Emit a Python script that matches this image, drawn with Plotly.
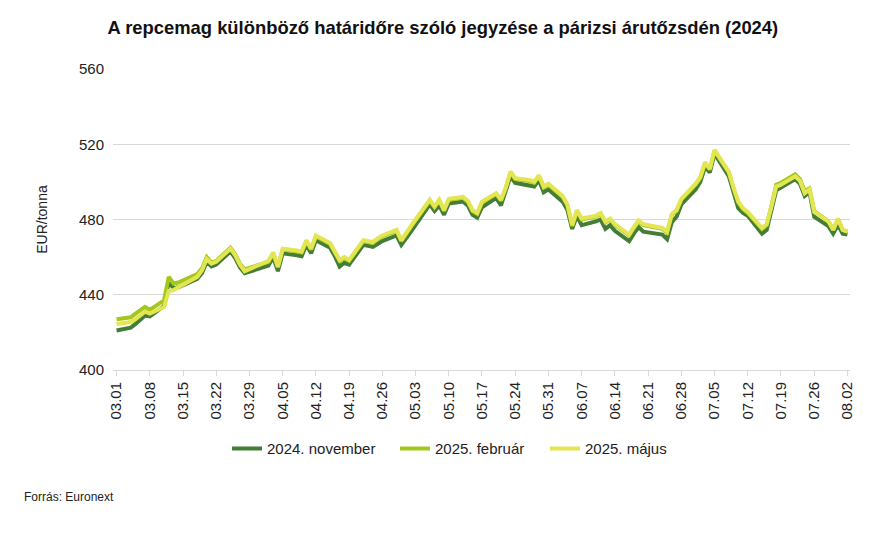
import plotly.graph_objects as go

dates = [
    "2024-03-01", "2024-03-04", "2024-03-05", "2024-03-06", "2024-03-07", "2024-03-08",
    "2024-03-11", "2024-03-12", "2024-03-13", "2024-03-14", "2024-03-15",
    "2024-03-18", "2024-03-19", "2024-03-20", "2024-03-21", "2024-03-22",
    "2024-03-25", "2024-03-26", "2024-03-27", "2024-03-28",
    "2024-04-02", "2024-04-03", "2024-04-04", "2024-04-05",
    "2024-04-08", "2024-04-09", "2024-04-10", "2024-04-11", "2024-04-12",
    "2024-04-15", "2024-04-16", "2024-04-17", "2024-04-18", "2024-04-19",
    "2024-04-22", "2024-04-23", "2024-04-24", "2024-04-25", "2024-04-26",
    "2024-04-29", "2024-04-30",
    "2024-05-02", "2024-05-03",
    "2024-05-06", "2024-05-07", "2024-05-08", "2024-05-09", "2024-05-10",
    "2024-05-13", "2024-05-14", "2024-05-15", "2024-05-16", "2024-05-17",
    "2024-05-20", "2024-05-21", "2024-05-22", "2024-05-23", "2024-05-24",
    "2024-05-27", "2024-05-28", "2024-05-29", "2024-05-30", "2024-05-31",
    "2024-06-03", "2024-06-04", "2024-06-05", "2024-06-06", "2024-06-07",
    "2024-06-10", "2024-06-11", "2024-06-12", "2024-06-13", "2024-06-14",
    "2024-06-17", "2024-06-18", "2024-06-19", "2024-06-20", "2024-06-21",
    "2024-06-24", "2024-06-25", "2024-06-26", "2024-06-27", "2024-06-28",
    "2024-07-01", "2024-07-02", "2024-07-03", "2024-07-04", "2024-07-05",
    "2024-07-08", "2024-07-09", "2024-07-10", "2024-07-11", "2024-07-12",
    "2024-07-15", "2024-07-16", "2024-07-17", "2024-07-18", "2024-07-19",
    "2024-07-22", "2024-07-23", "2024-07-24", "2024-07-25", "2024-07-26",
    "2024-07-29", "2024-07-30", "2024-07-31",
    "2024-08-01", "2024-08-02",
]

nov_2024 = [
    421, 422.5, 424.5, 427, 429, 428.5, 434, 447, 443.5, 444, 445, 448.5, 451.5, 457.5, 455, 456, 463, 459.5, 454.5, 451.5,
    455.5, 460, 452.5, 462, 461, 460.5, 466.5, 462, 469, 465, 460.5, 455, 457, 456, 466.5, 466, 465.5, 467, 468.5, 471.5, 466.5,
    473.5, 477, 488, 484.5, 487.5, 482.5, 488.5, 489.5, 487.5, 482.5, 481, 486.5, 491.5, 487.5, 494.5, 503, 499.5, 498, 497.5, 501, 494.5, 496,
    489.5, 485, 475, 482, 477, 479, 480, 475, 477, 474, 468.5, 472.5, 476, 473.5, 473, 472, 469.5, 478.5, 481.5, 488,
    496, 500, 508, 505, 515, 503, 494.5, 486, 483.5, 482, 472.5, 474.5, 485, 495.5, 497, 501.5, 499, 492.5, 494.5, 481.5, 476.5, 472.5, 477,
    472.5, 472,
]

feb_2025 = [
    427, 428, 430, 432, 433.5, 432, 437, 449.5, 446, 446.5, 447.5, 451, 454, 460, 457, 458, 465, 461.5, 456.5, 453.5,
    457.5, 462, 454.5, 464, 463, 462.5, 468.5, 464, 471, 467, 462.5, 458, 459.5, 458, 468.5, 468, 467.5, 469.5, 471, 474, 468.5,
    476, 479.5, 490, 486.5, 490, 484.5, 490.5, 491.5, 489.5, 484.5, 483, 489, 493.5, 490, 496.5, 505, 501.5, 500.5, 499.5, 503, 497, 498.5,
    492, 487.5, 476.5, 484.5, 480, 481.5, 483, 478.5, 480, 477, 471.5, 475.5, 479, 477, 476.5, 475, 473, 482.5, 484.5, 490.5,
    498.5, 502, 510, 506.5, 516.5, 505, 496.5, 489, 485.5, 483.5, 475, 477, 487.5, 498.5, 499.5, 504, 501.5, 495, 496.5, 484.5, 479, 474.5, 480,
    474.5, 473.5,
]

maj_2025 = [
    424.5, 425.5, 427, 429, 431, 430, 433.5, 442, 442.5, 444, 445.5, 449.5, 453, 459, 456.5, 457.5, 464.5, 461, 456, 452.5,
    458, 462.5, 455, 464.5, 463.5, 463, 469, 464.5, 471.5, 467.5, 463, 458.5, 460, 458.5, 469, 468.5, 468, 470, 471.5, 474.5, 469,
    476.5, 480, 490.5, 487, 490.5, 485, 491, 492, 490, 485, 483.5, 489.5, 494, 490.5, 497, 505.5, 502, 501, 500, 503.5, 497.5, 499,
    492.5, 488, 477, 485, 480.5, 482, 483.5, 479, 480.5, 477.5, 472, 476, 479.5, 477.5, 477, 475.5, 473.5, 483, 485, 491,
    499, 502.5, 510.5, 507, 517, 505.5, 497, 489.5, 486, 484, 475.5, 477.5, 487, 497.5, 498.5, 503, 500.5, 494, 496, 484, 479, 474.5, 480.5,
    474.5, 473.5,
]

series_names = ["2024. november", "2025. február", "2025. május"]
series_colors = ["#437d37", "#a3c71c", "#e3e651"]

tick_dates = [
    "2024-03-01", "2024-03-08", "2024-03-15", "2024-03-22", "2024-03-29", "2024-04-05",
    "2024-04-12", "2024-04-19", "2024-04-26", "2024-05-03", "2024-05-10", "2024-05-17",
    "2024-05-24", "2024-05-31", "2024-06-07", "2024-06-14", "2024-06-21", "2024-06-28",
    "2024-07-05", "2024-07-12", "2024-07-19", "2024-07-26", "2024-08-02",
]
tick_labels = [
    "03.01", "03.08", "03.15", "03.22", "03.29", "04.05", "04.12", "04.19", "04.26",
    "05.03", "05.10", "05.17", "05.24", "05.31", "06.07", "06.14", "06.21", "06.28",
    "07.05", "07.12", "07.19", "07.26", "08.02",
]

FONT = "Liberation Sans, Arial, sans-serif"

# plot area geometry (px) used to place the separate legend boxes
PLOT_L, PLOT_W = 113, 737
legend_keys = ["legend", "legend2", "legend3"]
legend_left_px = [227, 395, 545]

fig = go.Figure()
for name, vals, col, lk in zip(series_names, [nov_2024, feb_2025, maj_2025], series_colors, legend_keys):
    fig.add_trace(go.Scatter(x=dates, y=vals, mode="lines", name=name, legend=lk,
                             line=dict(color=col, width=4)))

legend_layout = {}
for lk, px in zip(legend_keys, legend_left_px):
    legend_layout[lk] = dict(orientation="h", x=(px - PLOT_L) / PLOT_W, xanchor="left",
                             y=-0.262, yanchor="middle",
                             font=dict(size=15, color="#222222"), itemwidth=30,
                             bgcolor="rgba(0,0,0,0)")

fig.update_layout(
    width=891, height=542,
    margin=dict(l=PLOT_L, r=41, t=69, b=172),
    paper_bgcolor="white", plot_bgcolor="white",
    font=dict(family=FONT, color="#222222"),
    title=dict(text="<b>A repcemag különböző határidőre szóló jegyzése a párizsi árutőzsdén (2024)</b>",
               x=0.497, xanchor="center", y=0.95, yanchor="middle",
               font=dict(size=18.4, color="#111111", family=FONT)),
    showlegend=True,
    xaxis=dict(type="date", range=["2024-02-29 06:00", "2024-08-02 13:00"],
               tickmode="array", tickvals=tick_dates, ticktext=tick_labels,
               tickangle=-90, tickfont=dict(size=15, color="#222222"),
               showgrid=False, showline=True, linecolor="#d9d9d9", linewidth=1,
               ticks="outside", ticklen=5, tickcolor="#d9d9d9", zeroline=False),
    yaxis=dict(range=[400, 560], dtick=40, tick0=400,
               tickfont=dict(size=15, color="#222222"), ticklabelstandoff=8,
               showgrid=True, gridcolor="#d9d9d9", gridwidth=1,
               zeroline=False, showline=False, ticks="",
               title=dict(text="EUR/tonna", font=dict(size=14, color="#222222"), standoff=28)),
    annotations=[dict(text="Forrás: Euronext", xref="paper", yref="paper",
                      x=-0.123, y=-0.422, xanchor="left", yanchor="middle",
                      showarrow=False, font=dict(size=12, color="#222222"))],
    **legend_layout,
)

fig.write_html("out.html")
